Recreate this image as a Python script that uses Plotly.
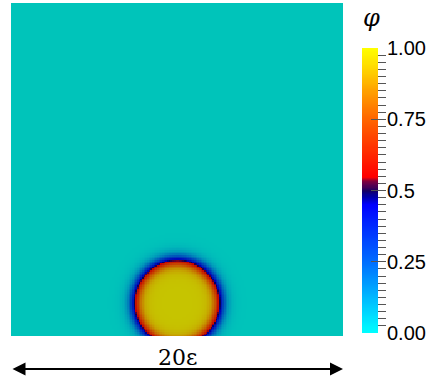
import numpy as np
import plotly.graph_objects as go

# ---- data ----
domain_size = 20.0          # domain is 20 epsilon wide
grid_n = 200
circle_cx = 10.0
circle_cy = 2.0
circle_r = 2.56
interface_w = 0.24

tick_vals = [0.0, 0.25, 0.5, 0.75, 1.0]
tick_text = ["0.00", "0.25", "0.5", "0.75", "1.00"]

# colour map (phi value, r, g, b)
cmap_pos = [0.0, 0.1, 0.25, 0.4, 0.45, 0.48, 0.5, 0.52, 0.535, 0.55, 0.65, 0.75, 0.85, 0.93, 1.0]
cmap_r = [0, 0, 0, 0, 0, 0, 20, 90, 130, 255, 255, 255, 255, 255, 255]
cmap_g = [255, 200, 110, 30, 0, 0, 0, 0, 0, 0, 50, 100, 160, 215, 255]
cmap_b = [255, 255, 255, 255, 255, 170, 100, 80, 60, 0, 0, 0, 0, 0, 0]

# ---- field ----
xs = np.linspace(0, domain_size, grid_n)
ys = np.linspace(0, domain_size, grid_n)
X, Y = np.meshgrid(xs, ys)
R = np.sqrt((X - circle_cx) ** 2 + (Y - circle_cy) ** 2)
phi = 0.5 * (1 - np.tanh((R - circle_r) / (2 * interface_w)))
phi = np.round(phi, 4)

bright_scale = [[p, f"rgb({r},{g},{b})"] for p, r, g, b in zip(cmap_pos, cmap_r, cmap_g, cmap_b)]
dim_scale = [[p, f"rgb({int(r*0.78)},{int(g*0.77)},{int(b*0.73)})"]
             for p, r, g, b in zip(cmap_pos, cmap_r, cmap_g, cmap_b)]

bar_vals = np.linspace(0, 1, 256)

fig = go.Figure()
fig.add_trace(go.Heatmap(x=xs, y=ys, z=phi, colorscale=dim_scale, zmin=0, zmax=1,
                         showscale=False, xaxis="x", yaxis="y", hoverinfo="skip"))
fig.add_trace(go.Heatmap(x=[0], y=bar_vals, z=bar_vals.reshape(-1, 1), colorscale=bright_scale,
                         zmin=0, zmax=1, showscale=False, xaxis="x2", yaxis="y2",
                         zsmooth="best", hoverinfo="skip"))

W, H = 433, 381
ml, mr, mt, mb = 11, 0, 3, 45
pw = W - ml - mr
ph = H - mt - mb


def px_x(p):
    return (p - ml) / pw


def px_y(p):
    return (H - mb - p) / ph


fig.update_layout(
    width=W, height=H, template="none",
    margin=dict(l=ml, r=mr, t=mt, b=mb),
    paper_bgcolor="white", plot_bgcolor="white",
    showlegend=False,
    xaxis=dict(domain=[0, px_x(343)], range=[0, domain_size], showgrid=False, zeroline=False,
               showticklabels=False, ticks="", showline=False, automargin=False),
    yaxis=dict(domain=[0, 1], range=[0, domain_size], showgrid=False, zeroline=False,
               showticklabels=False, ticks="", showline=False, automargin=False),
    xaxis2=dict(domain=[px_x(362), px_x(386)], range=[-0.5, 1.0], anchor="y2",
                showgrid=False, zeroline=False, showticklabels=False, ticks="",
                showline=False, automargin=False),
    yaxis2=dict(domain=[px_y(333), px_y(48)], range=[0, 1], anchor="x2", side="right",
                showgrid=False, zeroline=False, showline=False, automargin=False,
                tickvals=tick_vals, ticktext=tick_text, ticks="inside", ticklen=15,
                tickwidth=1, tickcolor="#555555",
                minor=dict(ticks="inside", ticklen=8, tickwidth=1, tickcolor="#555555", dtick=0.025),
                tickfont=dict(family="Liberation Sans, Arial, sans-serif", size=20, color="black")),
)

fig.add_annotation(x=domain_size, y=px_y(369), xref="x", yref="paper",
                   ax=0, ay=0, axref="x", ayref="pixel", text="",
                   showarrow=True, arrowside="end+start", arrowhead=2,
                   arrowsize=1.3, arrowwidth=2, arrowcolor="black",
                   standoff=0, startstandoff=0)
fig.add_annotation(x=domain_size / 2, y=px_y(357), xref="x", yref="paper",
                   xanchor="center", yanchor="middle",
                   text="20\u03b5", showarrow=False,
                   font=dict(family="DejaVu Serif", size=22, color="black"))
fig.add_annotation(x=px_x(371), y=px_y(18), xref="paper", yref="paper",
                   xanchor="center", yanchor="middle",
                   text="<i>\u03c6</i>", showarrow=False,
                   font=dict(family="DejaVu Serif", size=24, color="black"))

fig.write_html("out.html", post_script="document.body.style.margin='0';",
               config={"displayModeBar": False})
